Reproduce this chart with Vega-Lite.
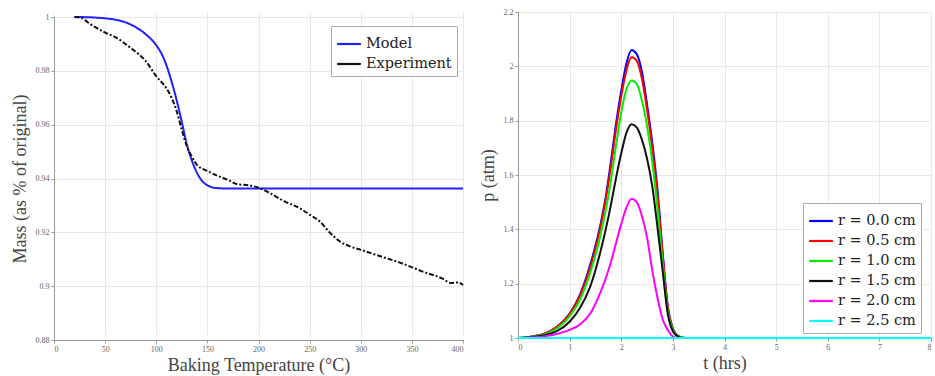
{
  "$schema": "https://vega.github.io/schema/vega-lite/v6.json",
  "background": "white",
  "padding": {"left": 11, "top": 8, "right": 2, "bottom": 2},
  "spacing": 12,
  "config": {
    "font": "Liberation Serif",
    "view": {"stroke": null},
    "axis": {
      "gridColor": "#e8e8e8",
      "domainColor": "#9a9a9a",
      "tickColor": "#9a9a9a",
      "labelColor": "#666666",
      "labelFontSize": 8,
      "labelFont": "Liberation Serif",
      "titleFont": "Liberation Serif",
      "titleFontSize": 18,
      "titleFontWeight": "normal",
      "titleColor": "#444444",
      "tickSize": 3
    },
    "legend": {
      "orient": "none",
      "fillColor": "white",
      "strokeColor": "#aaaaaa",
      "padding": 5,
      "labelFont": "DejaVu Serif",
      "labelFontSize": 14.5,
      "labelColor": "#222222",
      "symbolType": "stroke",
      "symbolSize": 560,
      "symbolStrokeWidth": 2.2,
      "rowPadding": 0,
      "labelOffset": 4
    }
  },
  "datasets": {
    "mass": [
      {"T": 20, "mass": 1.0, "series": "Model"},
      {"T": 30, "mass": 0.99995, "series": "Model"},
      {"T": 40, "mass": 0.9998, "series": "Model"},
      {"T": 50, "mass": 0.9995, "series": "Model"},
      {"T": 60, "mass": 0.999, "series": "Model"},
      {"T": 70, "mass": 0.998, "series": "Model"},
      {"T": 80, "mass": 0.9962, "series": "Model"},
      {"T": 90, "mass": 0.9935, "series": "Model"},
      {"T": 100, "mass": 0.9895, "series": "Model"},
      {"T": 105, "mass": 0.9865, "series": "Model"},
      {"T": 110, "mass": 0.982, "series": "Model"},
      {"T": 115, "mass": 0.976, "series": "Model"},
      {"T": 120, "mass": 0.969, "series": "Model"},
      {"T": 125, "mass": 0.961, "series": "Model"},
      {"T": 130, "mass": 0.9525, "series": "Model"},
      {"T": 135, "mass": 0.9465, "series": "Model"},
      {"T": 140, "mass": 0.942, "series": "Model"},
      {"T": 145, "mass": 0.939, "series": "Model"},
      {"T": 150, "mass": 0.9375, "series": "Model"},
      {"T": 155, "mass": 0.9367, "series": "Model"},
      {"T": 160, "mass": 0.9364, "series": "Model"},
      {"T": 170, "mass": 0.9363, "series": "Model"},
      {"T": 400, "mass": 0.9363, "series": "Model"},
      {"T": 20, "mass": 1.0, "series": "Experiment"},
      {"T": 27, "mass": 0.9996, "series": "Experiment"},
      {"T": 35, "mass": 0.9975, "series": "Experiment"},
      {"T": 50, "mass": 0.9942, "series": "Experiment"},
      {"T": 60, "mass": 0.9925, "series": "Experiment"},
      {"T": 75, "mass": 0.9885, "series": "Experiment"},
      {"T": 90, "mass": 0.9835, "series": "Experiment"},
      {"T": 100, "mass": 0.978, "series": "Experiment"},
      {"T": 110, "mass": 0.9735, "series": "Experiment"},
      {"T": 115, "mass": 0.97, "series": "Experiment"},
      {"T": 120, "mass": 0.965, "series": "Experiment"},
      {"T": 125, "mass": 0.958, "series": "Experiment"},
      {"T": 130, "mass": 0.952, "series": "Experiment"},
      {"T": 135, "mass": 0.948, "series": "Experiment"},
      {"T": 140, "mass": 0.945, "series": "Experiment"},
      {"T": 150, "mass": 0.9428, "series": "Experiment"},
      {"T": 160, "mass": 0.941, "series": "Experiment"},
      {"T": 170, "mass": 0.9395, "series": "Experiment"},
      {"T": 180, "mass": 0.9378, "series": "Experiment"},
      {"T": 190, "mass": 0.9375, "series": "Experiment"},
      {"T": 200, "mass": 0.9366, "series": "Experiment"},
      {"T": 210, "mass": 0.9348, "series": "Experiment"},
      {"T": 225, "mass": 0.9316, "series": "Experiment"},
      {"T": 240, "mass": 0.929, "series": "Experiment"},
      {"T": 250, "mass": 0.9266, "series": "Experiment"},
      {"T": 260, "mass": 0.924, "series": "Experiment"},
      {"T": 270, "mass": 0.9198, "series": "Experiment"},
      {"T": 280, "mass": 0.9165, "series": "Experiment"},
      {"T": 290, "mass": 0.9147, "series": "Experiment"},
      {"T": 300, "mass": 0.9135, "series": "Experiment"},
      {"T": 320, "mass": 0.911, "series": "Experiment"},
      {"T": 340, "mass": 0.9085, "series": "Experiment"},
      {"T": 360, "mass": 0.9055, "series": "Experiment"},
      {"T": 380, "mass": 0.9028, "series": "Experiment"},
      {"T": 388, "mass": 0.9012, "series": "Experiment"},
      {"T": 395, "mass": 0.9014, "series": "Experiment"},
      {"T": 400, "mass": 0.9004, "series": "Experiment"}
    ],
    "pressure": [
      {"t": 0, "p": 1.0, "r": "r = 0.0 cm"},
      {"t": 0.25, "p": 1.005, "r": "r = 0.0 cm"},
      {"t": 0.5, "p": 1.015, "r": "r = 0.0 cm"},
      {"t": 0.75, "p": 1.04, "r": "r = 0.0 cm"},
      {"t": 1.0, "p": 1.09, "r": "r = 0.0 cm"},
      {"t": 1.2, "p": 1.16, "r": "r = 0.0 cm"},
      {"t": 1.4, "p": 1.27, "r": "r = 0.0 cm"},
      {"t": 1.6, "p": 1.42, "r": "r = 0.0 cm"},
      {"t": 1.7, "p": 1.52, "r": "r = 0.0 cm"},
      {"t": 1.8, "p": 1.65, "r": "r = 0.0 cm"},
      {"t": 1.9, "p": 1.79, "r": "r = 0.0 cm"},
      {"t": 2.0, "p": 1.91, "r": "r = 0.0 cm"},
      {"t": 2.1, "p": 2.01, "r": "r = 0.0 cm"},
      {"t": 2.2, "p": 2.06, "r": "r = 0.0 cm"},
      {"t": 2.3, "p": 2.045, "r": "r = 0.0 cm"},
      {"t": 2.4, "p": 1.98, "r": "r = 0.0 cm"},
      {"t": 2.5, "p": 1.86, "r": "r = 0.0 cm"},
      {"t": 2.6, "p": 1.72, "r": "r = 0.0 cm"},
      {"t": 2.7, "p": 1.55, "r": "r = 0.0 cm"},
      {"t": 2.8, "p": 1.32, "r": "r = 0.0 cm"},
      {"t": 2.9, "p": 1.12, "r": "r = 0.0 cm"},
      {"t": 3.0, "p": 1.035, "r": "r = 0.0 cm"},
      {"t": 3.1, "p": 1.008, "r": "r = 0.0 cm"},
      {"t": 3.2, "p": 1.001, "r": "r = 0.0 cm"},
      {"t": 3.3, "p": 1.0, "r": "r = 0.0 cm"},
      {"t": 8, "p": 1.0, "r": "r = 0.0 cm"},
      {"t": 0, "p": 1.0, "r": "r = 0.5 cm"},
      {"t": 0.25, "p": 1.005, "r": "r = 0.5 cm"},
      {"t": 0.5, "p": 1.015, "r": "r = 0.5 cm"},
      {"t": 0.75, "p": 1.04, "r": "r = 0.5 cm"},
      {"t": 1.0, "p": 1.088, "r": "r = 0.5 cm"},
      {"t": 1.2, "p": 1.155, "r": "r = 0.5 cm"},
      {"t": 1.4, "p": 1.26, "r": "r = 0.5 cm"},
      {"t": 1.6, "p": 1.41, "r": "r = 0.5 cm"},
      {"t": 1.7, "p": 1.51, "r": "r = 0.5 cm"},
      {"t": 1.8, "p": 1.63, "r": "r = 0.5 cm"},
      {"t": 1.9, "p": 1.77, "r": "r = 0.5 cm"},
      {"t": 2.0, "p": 1.89, "r": "r = 0.5 cm"},
      {"t": 2.1, "p": 1.985, "r": "r = 0.5 cm"},
      {"t": 2.2, "p": 2.033, "r": "r = 0.5 cm"},
      {"t": 2.3, "p": 2.02, "r": "r = 0.5 cm"},
      {"t": 2.4, "p": 1.955, "r": "r = 0.5 cm"},
      {"t": 2.5, "p": 1.84, "r": "r = 0.5 cm"},
      {"t": 2.6, "p": 1.7, "r": "r = 0.5 cm"},
      {"t": 2.7, "p": 1.53, "r": "r = 0.5 cm"},
      {"t": 2.8, "p": 1.31, "r": "r = 0.5 cm"},
      {"t": 2.9, "p": 1.115, "r": "r = 0.5 cm"},
      {"t": 3.0, "p": 1.033, "r": "r = 0.5 cm"},
      {"t": 3.1, "p": 1.008, "r": "r = 0.5 cm"},
      {"t": 3.2, "p": 1.001, "r": "r = 0.5 cm"},
      {"t": 3.3, "p": 1.0, "r": "r = 0.5 cm"},
      {"t": 8, "p": 1.0, "r": "r = 0.5 cm"},
      {"t": 0, "p": 1.0, "r": "r = 1.0 cm"},
      {"t": 0.25, "p": 1.004, "r": "r = 1.0 cm"},
      {"t": 0.5, "p": 1.013, "r": "r = 1.0 cm"},
      {"t": 0.75, "p": 1.035, "r": "r = 1.0 cm"},
      {"t": 1.0, "p": 1.08, "r": "r = 1.0 cm"},
      {"t": 1.2, "p": 1.14, "r": "r = 1.0 cm"},
      {"t": 1.4, "p": 1.24, "r": "r = 1.0 cm"},
      {"t": 1.6, "p": 1.38, "r": "r = 1.0 cm"},
      {"t": 1.7, "p": 1.47, "r": "r = 1.0 cm"},
      {"t": 1.8, "p": 1.58, "r": "r = 1.0 cm"},
      {"t": 1.9, "p": 1.71, "r": "r = 1.0 cm"},
      {"t": 2.0, "p": 1.83, "r": "r = 1.0 cm"},
      {"t": 2.1, "p": 1.915, "r": "r = 1.0 cm"},
      {"t": 2.2, "p": 1.948, "r": "r = 1.0 cm"},
      {"t": 2.3, "p": 1.935, "r": "r = 1.0 cm"},
      {"t": 2.4, "p": 1.875, "r": "r = 1.0 cm"},
      {"t": 2.5, "p": 1.78, "r": "r = 1.0 cm"},
      {"t": 2.6, "p": 1.65, "r": "r = 1.0 cm"},
      {"t": 2.7, "p": 1.48, "r": "r = 1.0 cm"},
      {"t": 2.8, "p": 1.28, "r": "r = 1.0 cm"},
      {"t": 2.9, "p": 1.1, "r": "r = 1.0 cm"},
      {"t": 3.0, "p": 1.03, "r": "r = 1.0 cm"},
      {"t": 3.1, "p": 1.007, "r": "r = 1.0 cm"},
      {"t": 3.2, "p": 1.001, "r": "r = 1.0 cm"},
      {"t": 3.3, "p": 1.0, "r": "r = 1.0 cm"},
      {"t": 8, "p": 1.0, "r": "r = 1.0 cm"},
      {"t": 0, "p": 1.0, "r": "r = 1.5 cm"},
      {"t": 0.25, "p": 1.003, "r": "r = 1.5 cm"},
      {"t": 0.5, "p": 1.01, "r": "r = 1.5 cm"},
      {"t": 0.75, "p": 1.025, "r": "r = 1.5 cm"},
      {"t": 1.0, "p": 1.06, "r": "r = 1.5 cm"},
      {"t": 1.2, "p": 1.11, "r": "r = 1.5 cm"},
      {"t": 1.4, "p": 1.19, "r": "r = 1.5 cm"},
      {"t": 1.6, "p": 1.32, "r": "r = 1.5 cm"},
      {"t": 1.7, "p": 1.4, "r": "r = 1.5 cm"},
      {"t": 1.8, "p": 1.49, "r": "r = 1.5 cm"},
      {"t": 1.9, "p": 1.59, "r": "r = 1.5 cm"},
      {"t": 2.0, "p": 1.68, "r": "r = 1.5 cm"},
      {"t": 2.1, "p": 1.755, "r": "r = 1.5 cm"},
      {"t": 2.2, "p": 1.787, "r": "r = 1.5 cm"},
      {"t": 2.3, "p": 1.775, "r": "r = 1.5 cm"},
      {"t": 2.4, "p": 1.73, "r": "r = 1.5 cm"},
      {"t": 2.5, "p": 1.66, "r": "r = 1.5 cm"},
      {"t": 2.6, "p": 1.56, "r": "r = 1.5 cm"},
      {"t": 2.7, "p": 1.41, "r": "r = 1.5 cm"},
      {"t": 2.8, "p": 1.25, "r": "r = 1.5 cm"},
      {"t": 2.9, "p": 1.09, "r": "r = 1.5 cm"},
      {"t": 3.0, "p": 1.025, "r": "r = 1.5 cm"},
      {"t": 3.1, "p": 1.005, "r": "r = 1.5 cm"},
      {"t": 3.2, "p": 1.0, "r": "r = 1.5 cm"},
      {"t": 8, "p": 1.0, "r": "r = 1.5 cm"},
      {"t": 0, "p": 1.0, "r": "r = 2.0 cm"},
      {"t": 0.25, "p": 1.002, "r": "r = 2.0 cm"},
      {"t": 0.5, "p": 1.006, "r": "r = 2.0 cm"},
      {"t": 0.75, "p": 1.015, "r": "r = 2.0 cm"},
      {"t": 1.0, "p": 1.03, "r": "r = 2.0 cm"},
      {"t": 1.2, "p": 1.05, "r": "r = 2.0 cm"},
      {"t": 1.4, "p": 1.09, "r": "r = 2.0 cm"},
      {"t": 1.6, "p": 1.17, "r": "r = 2.0 cm"},
      {"t": 1.7, "p": 1.22, "r": "r = 2.0 cm"},
      {"t": 1.8, "p": 1.28, "r": "r = 2.0 cm"},
      {"t": 1.9, "p": 1.35, "r": "r = 2.0 cm"},
      {"t": 2.0, "p": 1.42, "r": "r = 2.0 cm"},
      {"t": 2.1, "p": 1.48, "r": "r = 2.0 cm"},
      {"t": 2.2, "p": 1.513, "r": "r = 2.0 cm"},
      {"t": 2.3, "p": 1.5, "r": "r = 2.0 cm"},
      {"t": 2.4, "p": 1.45, "r": "r = 2.0 cm"},
      {"t": 2.5, "p": 1.37, "r": "r = 2.0 cm"},
      {"t": 2.6, "p": 1.25, "r": "r = 2.0 cm"},
      {"t": 2.7, "p": 1.15, "r": "r = 2.0 cm"},
      {"t": 2.8, "p": 1.07, "r": "r = 2.0 cm"},
      {"t": 2.9, "p": 1.03, "r": "r = 2.0 cm"},
      {"t": 3.0, "p": 1.005, "r": "r = 2.0 cm"},
      {"t": 3.1, "p": 1.0, "r": "r = 2.0 cm"},
      {"t": 8, "p": 1.0, "r": "r = 2.0 cm"},
      {"t": 0, "p": 1.0, "r": "r = 2.5 cm"},
      {"t": 8, "p": 1.0, "r": "r = 2.5 cm"}
    ]
  },
  "hconcat": [
    {
      "width": 409,
      "height": 328,
      "data": {"name": "mass"},
      "mark": {"type": "line", "strokeWidth": 2, "interpolate": "monotone"},
      "encoding": {
        "x": {
          "field": "T", "type": "quantitative",
          "scale": {"domain": [0, 400], "nice": false},
          "axis": {"values": [0, 50, 100, 150, 200, 250, 300, 350, 400], "title": "Baking Temperature (°C)", "titlePadding": 3}
        },
        "y": {
          "field": "mass", "type": "quantitative",
          "scale": {"domain": [0.88, 1], "nice": false, "zero": false, "range": [328, 5]},
          "axis": {"values": [0.88, 0.9, 0.92, 0.94, 0.96, 0.98, 1], "format": "~g", "title": "Mass (as % of original)", "titlePadding": 6}
        },
        "color": {
          "field": "series", "type": "nominal",
          "scale": {"domain": ["Model", "Experiment"], "range": ["#2020ff", "#111111"]},
          "legend": {"title": null, "legendX": 277, "legendY": 14}
        },
        "strokeDash": {
          "field": "series", "type": "nominal",
          "scale": {"domain": ["Model", "Experiment"], "range": [[1, 0], [5, 2, 2, 2]]},
          "legend": null
        }
      }
    },
    {
      "width": 413,
      "height": 326,
      "data": {"name": "pressure"},
      "mark": {"type": "line", "strokeWidth": 2, "interpolate": "monotone"},
      "encoding": {
        "x": {
          "field": "t", "type": "quantitative",
          "scale": {"domain": [0, 8], "nice": false},
          "axis": {"values": [0, 1, 2, 3, 4, 5, 6, 7, 8], "title": "t (hrs)", "titlePadding": 3}
        },
        "y": {
          "field": "p", "type": "quantitative",
          "scale": {"domain": [1, 2.2], "nice": false, "zero": false},
          "axis": {"values": [1, 1.2, 1.4, 1.6, 1.8, 2, 2.2], "format": "~g", "title": "p (atm)", "titlePadding": 6}
        },
        "color": {
          "field": "r", "type": "nominal",
          "scale": {
            "domain": ["r = 0.0 cm", "r = 0.5 cm", "r = 1.0 cm", "r = 1.5 cm", "r = 2.0 cm", "r = 2.5 cm"],
            "range": ["#0000ff", "#ff0000", "#00ee00", "#111111", "#ff00ff", "#00ffff"]
          },
          "legend": {"title": null, "legendX": 285, "legendY": 191}
        }
      }
    }
  ],
  "resolve": {"scale": {"color": "independent", "x": "independent", "y": "independent"}, "legend": {"color": "independent"}}
}
